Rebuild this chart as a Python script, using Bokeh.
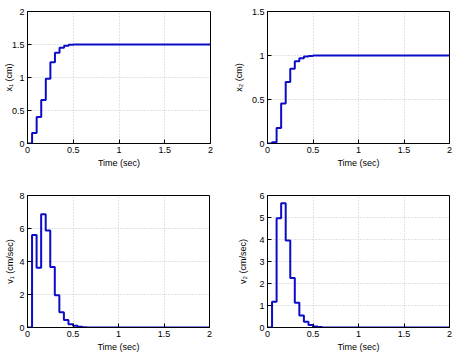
from bokeh.plotting import figure
from bokeh.layouts import column, row
from bokeh.models import FixedTicker
from bokeh.embed import file_html
from bokeh.resources import INLINE

# --- data ---
t_x1 = [0, 0.05, 0.10, 0.15, 0.20, 0.25, 0.30, 0.35, 0.40, 0.45, 0.50, 0.55, 2.0]
x1 = [0, 0.16, 0.40, 0.66, 0.98, 1.23, 1.375, 1.45, 1.48, 1.495, 1.50, 1.50, 1.50]

t_x2 = [0, 0.05, 0.10, 0.15, 0.20, 0.25, 0.30, 0.35, 0.40, 0.45, 0.50, 0.55, 2.0]
x2 = [0, 0.015, 0.175, 0.455, 0.70, 0.85, 0.935, 0.97, 0.99, 0.995, 1.0, 1.0, 1.0]

t_v1 = [0, 0.05, 0.10, 0.15, 0.20, 0.25, 0.30, 0.35, 0.40, 0.45, 0.50, 0.55, 0.60, 0.65, 2.0]
v1 = [0, 5.6, 3.62, 6.87, 5.88, 3.66, 1.95, 0.93, 0.46, 0.20, 0.10, 0.04, 0.015, 0, 0]

t_v2 = [0, 0.05, 0.10, 0.15, 0.20, 0.25, 0.30, 0.35, 0.40, 0.45, 0.50, 0.55, 0.60, 2.0]
v2 = [0, 1.17, 4.97, 5.65, 3.96, 2.25, 1.12, 0.54, 0.26, 0.11, 0.05, 0.02, 0, 0]

x_ticks = [0, 0.5, 1, 1.5, 2]
x1_ticks = [0, 0.5, 1, 1.5, 2]
x2_ticks = [0, 0.5, 1, 1.5]
v1_ticks = [0, 2, 4, 6, 8]
v2_ticks = [0, 1, 2, 3, 4, 5, 6]

x_label = "Time (sec)"
labels = ["x\u2081 (cm)", "x\u2082 (cm)", "v\u2081 (cm/sec)", "v\u2082 (cm/sec)"]

FONT = "Liberation Sans"
LINE = "#0c0cc8"


def fmt(v):
    return ("%g" % v)


def make(t, y, yticks, ylabel, w, h, left, right, top, bottom, ystand):
    p = figure(width=w, height=h, output_backend="svg", toolbar_location=None,
               x_range=(0, 2), y_range=(yticks[0], yticks[-1]),
               min_border_left=left, min_border_right=right,
               min_border_top=top, min_border_bottom=bottom)
    p.step(t, y, mode="after", line_color=LINE, line_width=2)
    p.outline_line_color = "black"
    p.outline_line_width = 1
    p.outline_line_alpha = 1
    p.background_fill_color = "white"
    p.border_fill_color = "white"
    p.xaxis.ticker = FixedTicker(ticks=x_ticks)
    p.yaxis.ticker = FixedTicker(ticks=yticks)
    p.xaxis.major_label_overrides = {v: fmt(v) for v in x_ticks}
    p.yaxis.major_label_overrides = {v: fmt(v) for v in yticks}
    for ax in (p.xaxis, p.yaxis):
        ax.major_tick_in = 4
        ax.major_tick_out = 0
        ax.minor_tick_in = 0
        ax.minor_tick_out = 0
        ax.axis_line_color = "black"
        ax.major_label_text_font = FONT
        ax.major_label_text_font_size = "9px"
        ax.major_label_text_color = "black"
        ax.axis_label_text_font = FONT
        ax.axis_label_text_font_size = "9px"
        ax.axis_label_text_font_style = "normal"
        ax.axis_label_text_color = "black"
        ax.major_label_standoff = 3
    p.xaxis.axis_label_standoff = 2
    p.yaxis.axis_label_standoff = ystand
    p.xaxis.axis_label = x_label
    p.yaxis.axis_label = ylabel
    for g in (p.xgrid, p.ygrid):
        g.grid_line_color = "#c4c4c4"
        g.grid_line_dash = "1 2"
        g.grid_line_width = 1
    return p


p1 = make(t_x1, x1, x1_ticks, labels[0], 228, 170, 27, 18, 11, 26, -5)
p2 = make(t_x2, x2, x2_ticks, labels[1], 227, 170, 39, 6, 11, 26, 5)
p3 = make(t_v1, v1, v1_ticks, labels[2], 228, 189, 27, 19, 25, 32, 1)
p4 = make(t_v2, v2, v2_ticks, labels[3], 227, 189, 39, 6, 25, 32, 8)

layout = column(row(p1, p2, spacing=0), row(p3, p4, spacing=0), spacing=0)
open("out.html", "w").write(file_html(layout, INLINE))
